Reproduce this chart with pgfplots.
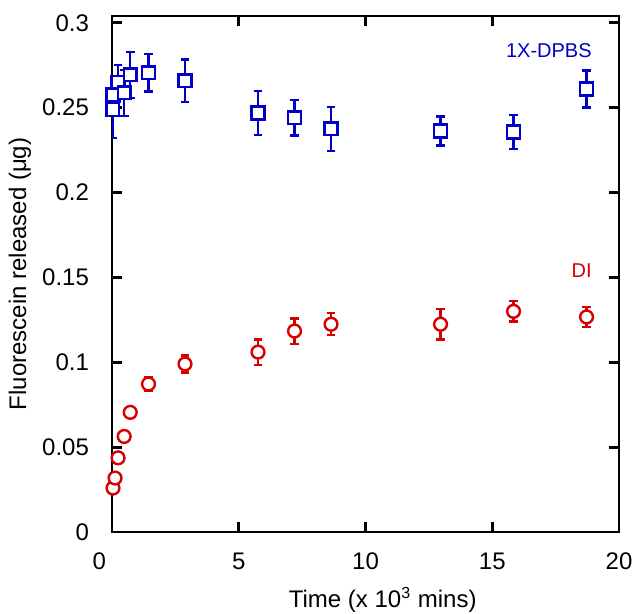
\documentclass[border=0pt]{standalone}
\usepackage{pgfplots}
\pgfplotsset{compat=1.18}
\usepackage{pgfplotstable}
\usepackage{fontspec}
\setmainfont{Liberation Sans}

\definecolor{dpbsblue}{RGB}{0,0,200}
\definecolor{dired}{RGB}{215,0,0}

% time (x 10^3 min), released (ug), error
\pgfplotstableread{
t      f       err
0.03   0.2490  0.0170
0.04   0.2575  0.0100
0.24   0.2650  0.0100
0.48   0.2587  0.0135
0.72   0.2693  0.0135
1.44   0.2705  0.0110
2.88   0.2658  0.0125
5.76   0.2469  0.0130
7.20   0.2440  0.0105
8.64   0.2375  0.0130
12.96  0.2363  0.0085
15.84  0.2357  0.0100
18.72  0.2610  0.0110
}\dpbs

\pgfplotstableread{
t      f       err
0.04   0.0259  0.0015
0.12   0.0318  0.0015
0.24   0.0437  0.0015
0.48   0.0563  0.0015
0.72   0.0705  0.0015
1.44   0.0872  0.0040
2.88   0.0990  0.0050
5.76   0.1060  0.0075
7.20   0.1184  0.0075
8.64   0.1224  0.0065
12.96  0.1224  0.0090
15.84  0.1300  0.0060
18.72  0.1267  0.0060
}\di

\pgfplotsset{
  errs/.style={draw=none, mark=none, forget plot,
    error bars/.cd, y dir=both, y explicit,
    error bar style={draw=#1, line width=1.2pt},
    error mark options={draw=#1, line width=1.2pt, mark size=2.2pt, rotate=90}},
  pts/.style={only marks, color=#1, mark size=3.2pt,
    mark options={line width=1.2pt, draw=#1, fill=white, solid}},
}

\begin{document}
\begin{tikzpicture}
\begin{axis}[
  scale only axis,
  width=253.5pt, height=258pt,
  xmin=0, xmax=20, ymin=0, ymax=0.304,
  xtick={0,5,10,15,20},
  xticklabels={{\makebox[0pt][r]{0\hspace{3pt}}},5,10,15,20},
  ytick={0,0.05,0.1,0.15,0.2,0.25,0.3},
  yticklabels={0\hspace{4pt},0.05,0.1,0.15,0.2,0.25,0.3},
  tick align=inside,
  major tick length=5pt,
  axis line style={line width=1.4pt},
  every tick/.style={black, line width=1.4pt},
  tick label style={font=\fontsize{12}{14}\selectfont},
  yticklabel style={xshift=-8pt},
  xticklabel style={yshift=-7pt},
  label style={font=\fontsize{12}{14}\selectfont},
  xlabel={Time (x 10\textsuperscript{3} mins)},
  ylabel={Fluorescein released (μg)},
  xlabel style={at={(axis description cs:0.534,-0.132)}, anchor=center},
  ylabel style={at={(axis description cs:-0.1815,0.5)}, anchor=center},
]
\addplot[errs=dpbsblue] table[x=t, y=f, y error=err] {\dpbs};
\addplot[errs=dired] table[x=t, y=f, y error=err] {\di};
\addplot[pts=dpbsblue, mark=square*] table[x=t, y=f] {\dpbs};
\addplot[pts=dired, mark=*] table[x=t, y=f] {\di};
\node[anchor=east, text=dpbsblue, font=\fontsize{10}{12}\selectfont]
  at (axis cs:19.2,0.2838) {1X-DPBS};
\node[anchor=east, text=dired, font=\fontsize{10}{12}\selectfont]
  at (axis cs:19.2,0.154) {DI};
\end{axis}
\pgfresetboundingbox
\path (current axis.south west) ++(-56pt,-40.5pt)
  rectangle ([shift={(8pt,8pt)}]current axis.north east);
\end{tikzpicture}
\end{document}
